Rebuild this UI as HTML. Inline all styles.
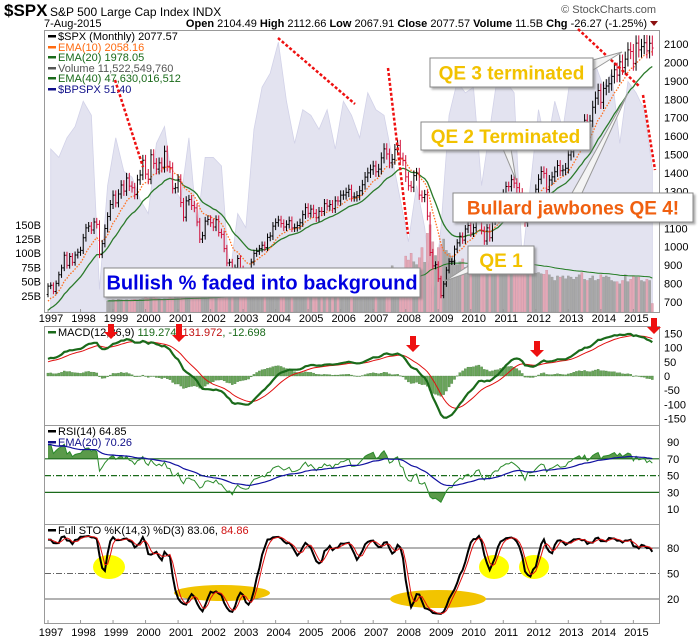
<!DOCTYPE html>
<html><head><meta charset="utf-8">
<style>
body{margin:0;background:#fff;}
svg{display:block;font-family:"Liberation Sans",sans-serif;}
</style></head>
<body>
<svg id="chart" width="700" height="639" viewBox="0 0 700 639" xmlns="http://www.w3.org/2000/svg">
<defs>
<clipPath id="cMain"><rect x="45" y="30" width="615" height="282"/></clipPath>
<clipPath id="cMacd"><rect x="45" y="326" width="615" height="99"/></clipPath>
<clipPath id="cRsi"><rect x="45" y="425" width="615" height="99"/></clipPath>
<clipPath id="cSto"><rect x="45" y="524" width="615" height="99"/></clipPath>
<clipPath id="cAbove70"><rect x="45" y="425" width="615" height="33.8"/></clipPath>
<clipPath id="cBelow30"><rect x="45" y="492.4" width="615" height="32"/></clipPath>
<filter id="sh" x="-5%" y="-10%" width="115%" height="140%"><feDropShadow dx="2" dy="2" stdDeviation="1" flood-color="#777" flood-opacity="0.6"/></filter>
</defs>
<g id="header">
<text x="4" y="16" font-size="17" font-weight="bold">$SPX</text>
<text x="50" y="16" font-size="12">S&amp;P 500 Large Cap Index  INDX</text>
<text x="44" y="27" font-size="11">7-Aug-2015</text>
<text x="647" y="27" font-size="11" text-anchor="end"><tspan font-weight="bold">Open</tspan> 2104.49  <tspan font-weight="bold">High</tspan> 2112.66  <tspan font-weight="bold">Low</tspan> 2067.91  <tspan font-weight="bold">Close</tspan> 2077.57  <tspan font-weight="bold">Volume</tspan> 11.5B  <tspan font-weight="bold">Chg</tspan> -26.27 (-1.25%)</text>
<polygon points="650,21 658,21 654,26" fill="#8b1010"/>
<text x="656" y="13" font-size="11" fill="#555" text-anchor="end">© StockCharts.com</text>
</g>
<g id="main" clip-path="url(#cMain)"></g>
<g id="macd" clip-path="url(#cMacd)"></g>
<g id="rsi" clip-path="url(#cRsi)"></g>
<g id="sto" clip-path="url(#cSto)"></g>
<g id="frames"></g>
<g id="annot"></g>
</svg>
<script>
// ---------- DATA ----------
const prefixCloses = [470,487,501,515,533,545,562,562,584,582,605,616,636,640,645,654,669,671,640,652,687,705,757,741];
const closes = [
786,791,757,801,848,885,954,899,947,915,955,970,
980,1049,1102,1112,1091,1134,1121,957,1017,1099,1164,1229,
1280,1238,1286,1335,1302,1373,1329,1320,1283,1363,1389,1469,
1394,1366,1499,1452,1421,1455,1431,1518,1437,1429,1315,1320,
1366,1240,1160,1249,1256,1224,1211,1134,1041,1060,1139,1148,
1130,1107,1147,1077,1067,990,912,916,815,886,936,880,
856,841,848,917,964,975,990,1008,996,1051,1058,1112,
1131,1145,1126,1107,1121,1141,1102,1104,1115,1130,1174,1212,
1181,1204,1181,1157,1192,1191,1234,1220,1229,1207,1249,1248,
1280,1281,1295,1311,1270,1270,1277,1304,1336,1378,1401,1418,
1438,1407,1421,1482,1531,1503,1455,1474,1527,1549,1481,1468,
1379,1331,1323,1386,1400,1280,1267,1283,1166,969,896,903,
826,735,798,873,919,919,987,1021,1057,1036,1096,1115,
1074,1104,1169,1187,1089,1031,1102,1049,1141,1183,1181,1258,
1286,1327,1326,1364,1345,1321,1292,1219,1131,1253,1247,1258,
1312,1366,1408,1398,1310,1362,1379,1407,1441,1412,1416,1426,
1498,1515,1569,1598,1631,1606,1686,1633,1682,1757,1806,1848,
1783,1859,1872,1884,1924,1960,1931,2003,1972,2018,2068,2059,
1995,2105,2068,2086,2107,2063,2104,2078];
const volumeStart = 22; // first month index with volume (Nov 1998)
const volumes = [16,17,
18,17,19,18,17,18,17,18,19,18,19,20,
22,21,24,22,21,20,19,20,20,23,21,22,
25,23,26,25,24,22,23,22,24,26,23,24,
27,25,26,27,28,30,34,29,28,33,29,27,
30,28,31,30,31,32,31,28,30,32,29,30,
33,31,35,31,32,30,31,28,29,31,32,33,
36,34,37,35,34,36,33,35,36,38,35,34,
42,40,44,40,46,45,41,40,39,42,40,38,
50,52,58,50,55,60,65,78,62,66,74,58,
95,88,100,85,80,92,110,84,135,150,120,96,
110,115,125,105,100,95,88,80,85,90,75,78,
82,78,80,88,105,92,80,82,78,75,76,70,
72,70,82,68,72,78,76,100,88,85,74,68,
65,66,64,63,70,62,58,52,60,58,60,55,
60,58,54,58,62,66,54,52,56,60,52,54,
62,58,60,58,52,50,50,46,52,62,50,54,
60,58,58,52,50,54,52,11.5];
const bullishPct = [58,55,62,66, 75,70,8,45, 62,50,48,40, 35,60,66,45, 40,62,30,55, 55,52,12,35, 30,65,80,85, 96,75,60,72, 70,65,72,58, 75,70,62,78, 72,70,55,40, 25,45,30,3, 30,70,82,78, 80,45,65,85, 82,78,18,45, 72,58,75,65, 85,82,80,88, 80,85,60,82, 78,72,51];
const years = [1997,1998,1999,2000,2001,2002,2003,2004,2005,2006,2007,2008,2009,2010,2011,2012,2013,2014,2015];
const priceTicks = [700,800,900,1000,1100,1200,1300,1400,1500,1600,1700,1800,1900,2000,2100];
const volTicks = [25,50,75,100,125,150];
const macdTicks = [150,100,50,0,-50,-100,-150];
const rsiTicks = [90,70,50,30,10];
const stoTicks = [80,50,20];

// ---------- SCALES ----------
const NS='http://www.w3.org/2000/svg';
const xm = i => 48 + i*2.71;
const yP = p => 44 + (2100-p)*0.1843;
const yV = v => 310 - v*0.568;
const yB = b => 312 - b*2.81;
const yM = v => 376 - v*0.2833;
const yR = v => 442 + (90-v)*0.84;
const yS = v => 548 + (80-v)*0.85;

function mk(parent, tag, attrs){const e=document.createElementNS(NS,tag);for(const k in attrs)e.setAttribute(k,attrs[k]);parent.appendChild(e);return e;}
const G = id => document.getElementById(id);

// ---------- INDICATORS ----------
const all = prefixCloses.concat(closes);
const P = prefixCloses.length;
function ema(arr,n){const k=2/(n+1);const out=[];let e=arr[0];for(let i=0;i<arr.length;i++){e=i===0?arr[0]:arr[i]*k+e*(1-k);out.push(e);}return out;}
const opens = all.map((c,i)=> i===0?c:all[i-1]);
const highs = all.map((c,i)=> Math.max(c,opens[i])*1.02);
const lows  = all.map((c,i)=> Math.min(c,opens[i])*0.98);
const ema10 = ema(all,10), ema20 = ema(all,20);
const e12 = ema(all,12), e26 = ema(all,26);
const macdLine = all.map((c,i)=> e12[i]-e26[i]);
const sigLine = ema(macdLine,9);
// RSI Wilder
const rsi=[];{let ag=0,al=0;for(let i=0;i<all.length;i++){if(i===0){rsi.push(50);continue;}const d=all[i]-all[i-1];const g=Math.max(d,0),l=Math.max(-d,0);if(i<=14){ag+=g/14;al+=l/14;}else{ag=(ag*13+g)/14;al=(al*13+l)/14;}rsi.push(al===0?100:100-100/(1+ag/al));}}
const rsiEma = ema(rsi.slice(P),20);
// Stochastics
const fastK = all.map((c,i)=>{const s=Math.max(0,i-13);const hh=Math.max(...highs.slice(s,i+1)),ll=Math.min(...lows.slice(s,i+1));return (c-ll)/(hh-ll)*100;});
const sma3 = a => a.map((v,i)=> i<2?v:(a[i]+a[i-1]+a[i-2])/3);
const fullK = sma3(fastK), fullD = sma3(fullK);

// ---------- MAIN PANEL ----------
const main = G('main');
let bp = `M${xm(1)},312 `;
bullishPct.forEach((b,q)=>{bp+=`L${xm(q*3+1)},${yB(b)} `;});
bp += `L${xm((bullishPct.length-1)*3+1)},312 Z`;
const bpEl = mk(main,'path',{d:bp,fill:'#e3e3f0',stroke:'#d2d2e8','stroke-width':0.8});



const volG = mk(main,'g',{});


volumes.forEach((v,j)=>{const i=volumeStart+j;const down=closes[i]<(i===0?closes[0]:closes[i-1]);
 const r=mk(volG,'rect',{x:xm(i)-1.1,y:yV(v),width:2.2,height:310-yV(v)+2,fill:down?'#e4a8b6':'#a8a8a8',stroke:down?'#c98898':'#8c8c8c','stroke-width':0.3});
 
 
});
const volEma = ema(volumes,40);
let vp='';volEma.forEach((v,j)=>{vp+=(j?'L':'M')+xm(volumeStart+j)+','+yV(v)+' ';});
const veEl=mk(main,'path',{d:vp,fill:'none',stroke:'#1e7a1e','stroke-width':1});



function linePath(arr,off,yf){let d='';for(let i=0;i<closes.length;i++){d+=(i?'L':'M')+xm(i).toFixed(1)+','+yf(arr[i+off]).toFixed(1)+' ';}return d;}
const e20El=mk(main,'path',{d:linePath(ema20,P,yP),fill:'none',stroke:'#2a7a2a','stroke-width':1.3});


const e10El=mk(main,'path',{d:linePath(ema10,P,yP),fill:'none',stroke:'#ff7020','stroke-width':1.3,'stroke-dasharray':'1.5,1.5'});



const barsG=mk(main,'g',{});


closes.forEach((c,i)=>{const k=i+P;const x=xm(i);const col=c<opens[k]?'#d0103a':'#000';
 const b=mk(barsG,'path',{d:`M${x},${yP(highs[k])}V${yP(lows[k])}M${x-1.3},${yP(opens[k])}H${x}M${x},${yP(c)}H${x+1.3}`,stroke:col,'stroke-width':1,fill:'none'});
 
 
});

// ---------- MACD ----------
const macd=G('macd');
closes.forEach((c,i)=>{const h=macdLine[i+P]-sigLine[i+P];const y0=yM(0),y1=yM(h);
 const r=mk(macd,'rect',{x:xm(i)-1.1,y:Math.min(y0,y1),width:2.2,height:Math.max(0.5,Math.abs(y1-y0)),fill:'#6aa55a',stroke:'#3f7a35','stroke-width':0.3});
 
 
});
const sigEl=mk(macd,'path',{d:linePath(sigLine,P,yM),fill:'none',stroke:'#e01010','stroke-width':1});


const mEl=mk(macd,'path',{d:linePath(macdLine,P,yM),fill:'none',stroke:'#1a6a1a','stroke-width':2.2});



// ---------- RSI ----------
const rsiG=G('rsi');
function areaTo(arr,off,yf,base){let d=`M${xm(0)},${yf(base)} `;for(let i=0;i<closes.length;i++)d+=`L${xm(i).toFixed(1)},${yf(arr[i+off]).toFixed(1)} `;return d+`L${xm(closes.length-1)},${yf(base)} Z`;}
const a70=mk(rsiG,'path',{d:areaTo(rsi,P,yR,70),fill:'#5a9a4a','clip-path':'url(#cAbove70)'});


const a30=mk(rsiG,'path',{d:areaTo(rsi,P,yR,30),fill:'#5a9a4a','clip-path':'url(#cBelow30)'});


[[70,''],[30,''],[50,'6,2,1,2']].forEach(([v,da])=>{const l=mk(rsiG,'line',{x1:45,x2:660,y1:yR(v),y2:yR(v),stroke:'#1a6a1a','stroke-width':1.2,'stroke-dasharray':da});
 
 });
const rEl=mk(rsiG,'path',{d:linePath(rsi,P,yR),fill:'none',stroke:'#2a8a2a','stroke-width':1});


const reEl=mk(rsiG,'path',{d:linePath(rsiEma,0,yR),fill:'none',stroke:'#1010a0','stroke-width':1.2});



// ---------- STO ----------
const sto=G('sto');
[[80,''],[20,''],[50,'6,2,1,2']].forEach(([v,da])=>{const l=mk(sto,'line',{x1:45,x2:660,y1:yS(v),y2:yS(v),stroke:'#666','stroke-width':1.1,'stroke-dasharray':da});
 
 });
[[109,567,16,12,'#ffff00'],[222,593,48,8,'#f2c400'],[438,599,48,9,'#f2c400'],[494,567,15,12,'#ffff00'],[534,567,15,12,'#ffff00']].forEach(([cx,cy,rx,ry,f])=>{
 const e=mk(sto,'ellipse',{cx,cy,rx,ry,fill:f});
 
 });
const kEl=mk(sto,'path',{d:linePath(fullK,P,yS),fill:'none',stroke:'#000','stroke-width':2});


const dEl=mk(sto,'path',{d:linePath(fullD,P,yS),fill:'none',stroke:'#e01010','stroke-width':1});



// ---------- FRAMES & AXES ----------
const fr=G('frames');
[[30,312],[326,425],[425,524],[524,623]].forEach(([t,b])=>{const r=mk(fr,'rect',{x:44.5,y:t+0.5,width:615,height:b-t,fill:'none',stroke:'#999','stroke-width':1});
 
 });
function lab(x,y,t,name,opt){const e=mk(fr,'text',Object.assign({x,y,'font-size':11},opt||{}));e.textContent=t;
 
 return e;}
priceTicks.forEach(p=>lab(664,yP(p)+4,String(p),'price-tick-label'));
volTicks.forEach(v=>lab(41,yV(v)+4,v+'B','volume-tick-label',{'text-anchor':'end'}));
macdTicks.forEach(v=>lab(664,yM(v)+4,String(v),'macd-tick-label'));
rsiTicks.forEach(v=>lab(667,yR(v)+4,String(v),'rsi-tick-label'));
stoTicks.forEach(v=>lab(667,yS(v)+4,String(v),'sto-tick-label'));
years.forEach(y=>{const x=xm((y-1997)*12)+3;
 lab(x,322,String(y),'year-label-top',{'text-anchor':'middle'});
 lab(x,636,String(y),'year-label-bottom',{'text-anchor':'middle'});
 [[312,309],[623,620]].forEach(([a,b])=>{const t=mk(fr,'line',{x1:x-3,x2:x-3,y1:a,y2:b,stroke:'#999'});
  
  });
});
// legends
const legs=[
 [58,40,[['$SPX (Monthly) 2077.57','#000']],'price-legend'],
 [58,51,[['EMA(10) 2058.16','#ff6a10']],'ema10-legend'],
 [58,61,[['EMA(20) 1978.05','#1a6a1a']],'ema20-legend'],
 [58,72,[['Volume 11,522,549,760','#555']],'volume-legend'],
 [58,82,[['EMA(40) 47,630,016,512','#1a6a1a']],'volume-ema-legend'],
 [58,93,[['$BPSPX 51.40','#10108a']],'bpspx-legend'],
 [58,336,[['MACD(12,26,9) ','#000'],['119.274, ','#1a6a1a'],['131.972','#c01010'],[', -12.698','#1a6a1a']],'macd-legend'],
 [58,435,[['RSI(14) 64.85','#000']],'rsi-legend'],
 [58,446,[['EMA(20) 70.26','#10108a']],'rsi-ema-legend'],
 [58,534,[['Full STO %K(14,3) %D(3) 83.06, ','#000'],['84.86','#d01010']],'sto-legend']];
legs.forEach(([x,y,parts,name])=>{const t=mk(fr,'text',{x,y,'font-size':11});parts.forEach(([s,c])=>{const ts=mk(t,'tspan',{fill:c});ts.textContent=s;});
 
 
 const ic=mk(fr,'rect',{x:48,y:y-5,width:8,height:2.5,fill:parts[parts.length>1&&name!=='sto-legend'?1:0][1]});
 
 });

// ---------- ANNOTATIONS ----------
const an=G('annot');
[[115,80,143,167],[278,38,355,104],[388,68,408,234],[578,29,640,87],[643,95,655,170]].forEach(([a,b,c,d])=>{
 const l=mk(an,'line',{x1:a,y1:b,x2:c,y2:d,stroke:'#ee1010','stroke-width':2.5,'stroke-dasharray':'3,2'});
 
 });
[[111,324,339],[179,324,342],[413,336,352],[537,341,357],[654,318,334]].forEach(([x,t,b])=>{
 const p=mk(an,'polygon',{points:`${x-3},${t} ${x+3},${t} ${x+3},${b-7} ${x+7},${b-7} ${x},${b} ${x-7},${b-7} ${x-3},${b-7}`,fill:'#ee1010'});
 
 });
const ptrs=[[[593,60],[593,70],[622,52]],[[503,149],[511,149],[516,180]],[[572,193],[582,193],[628,93]],[[470,265],[470,272],[445,281]]];
ptrs.forEach(pts=>{const p=mk(an,'polygon',{points:pts.map(q=>q.join(',')).join(' '),fill:'#f4f4f4',stroke:'#999','stroke-width':1});
 
 });
const boxes=[[430,58,163,29,'QE 3 terminated','#f2c200',19,'qe3-callout'],[421,122,169,28,'QE 2 Terminated','#f2c200',19,'qe2-callout'],[453,193,240,29,'Bullard jawbones QE 4!','#f06010',19,'bullard-callout'],[468,246,66,28,'QE 1','#f2c200',19,'qe1-callout'],[104,268,316,29,'Bullish % faded into background','#0000e0',20,'bullish-callout']];
boxes.forEach(([x,y,w,h,t,c,fs,name])=>{const g=mk(an,'g',{});
 
 
 mk(g,'rect',{x,y,width:w,height:h,fill:'#fff',stroke:'#888','stroke-width':1,filter:'url(#sh)'});
 const tx=mk(g,'text',{x:x+w/2,y:y+h/2+7,'font-size':fs,'font-weight':'bold',fill:c,'text-anchor':'middle'});tx.textContent=t;});
</script>
</body></html>
